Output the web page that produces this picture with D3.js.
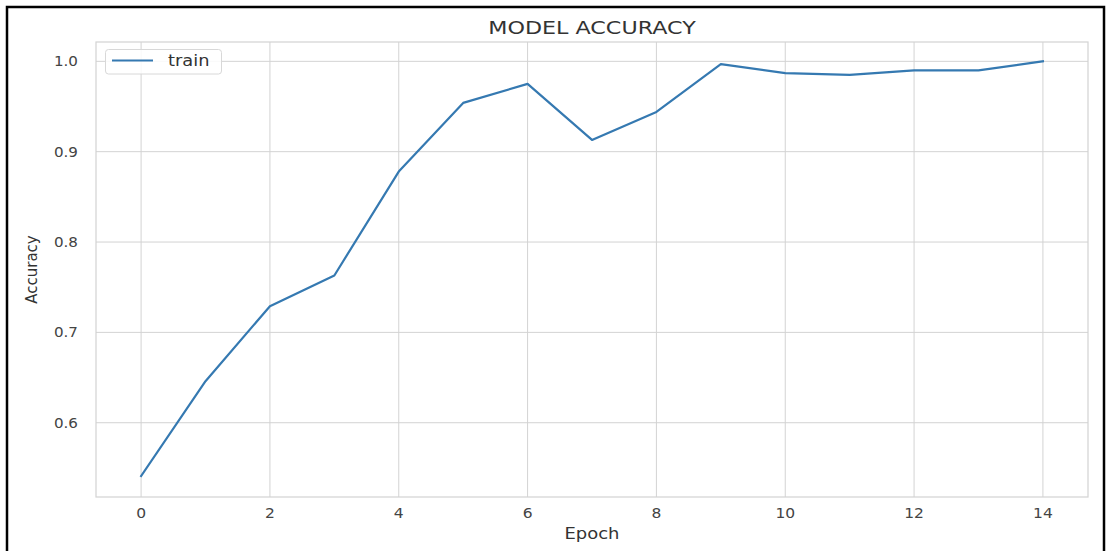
<!DOCTYPE html>
<html>
<head>
<meta charset="utf-8">
<script src="https://cdn.jsdelivr.net/npm/d3@7"></script>
<style>
  html, body { margin: 0; padding: 0; background: #fff; }
  svg { display: block; }
  text { font-family: "DejaVu Sans", sans-serif; }
</style>
</head>
<body>
<svg id="chart" width="1107" height="551"></svg>
<script>
const epochs = [0,1,2,3,4,5,6,7,8,9,10,11,12,13,14];
const trainAcc = [0.541,0.646,0.729,0.763,0.878,0.954,0.975,0.913,0.944,0.997,0.987,0.985,0.990,0.990,1.000];
const xTicks = [0,2,4,6,8,10,12,14];
const yTicks = [0.6,0.7,0.8,0.9,1.0];
const titleText = "MODEL ACCURACY";
const xLabel = "Epoch";
const yLabel = "Accuracy";
const seriesName = "train";

const svg = d3.select("#chart");
const pL = 96, pR = 1088, pT = 42, pB = 497;

const x = d3.scaleLinear().domain([-0.7, 14.7]).range([pL, pR]);
const y = d3.scaleLinear().domain([0.5178, 1.0214]).range([pB, pT]);

// outer frame
svg.append("rect").attr("x", 7).attr("y", 7).attr("width", 1097).attr("height", 560)
  .attr("fill", "none").attr("stroke", "#000").attr("stroke-width", 2.5);

const grid = "#d3d3d3";
// grid lines
svg.append("g").selectAll("line").data(xTicks).join("line")
  .attr("x1", d => x(d)).attr("x2", d => x(d)).attr("y1", pT).attr("y2", pB)
  .attr("stroke", grid).attr("stroke-width", 1);
svg.append("g").selectAll("line").data(yTicks).join("line")
  .attr("y1", d => y(d)).attr("y2", d => y(d)).attr("x1", pL).attr("x2", pR)
  .attr("stroke", grid).attr("stroke-width", 1);
// spines
svg.append("rect").attr("x", pL).attr("y", pT).attr("width", pR - pL).attr("height", pB - pT)
  .attr("fill", "none").attr("stroke", grid).attr("stroke-width", 1.2);

// tick labels
const tickCol = "#444";
svg.append("g").selectAll("text").data(xTicks).join("text")
  .attr("transform", d => `translate(${x(d)},518) scale(1.15,1)`)
  .attr("text-anchor", "middle").attr("font-size", 13.5).attr("fill", tickCol)
  .text(d => d3.format("d")(d));
svg.append("g").selectAll("text").data(yTicks).join("text")
  .attr("transform", d => `translate(78,${y(d) + 5}) scale(1.12,1)`)
  .attr("text-anchor", "end").attr("font-size", 13.5).attr("fill", tickCol)
  .text(d => d3.format(".1f")(d));

// title
svg.append("text").attr("transform", `translate(${(pL + pR) / 2},33.5) scale(1.27,1)`)
  .attr("text-anchor", "middle").attr("font-size", 17.5).attr("fill", "#333")
  .text(titleText);
// x label
svg.append("text").attr("transform", `translate(${(pL + pR) / 2},538.5) scale(1.16,1)`)
  .attr("text-anchor", "middle").attr("font-size", 15.5).attr("fill", "#333")
  .text(xLabel);
// y label
svg.append("text").attr("transform", `translate(37,${(pT + pB) / 2}) rotate(-90) scale(1.0,1.1)`)
  .attr("text-anchor", "middle").attr("font-size", 15).attr("fill", "#333")
  .text(yLabel);

// line
const lineColor = "#3579b1";
const line = d3.line().x((d, i) => x(epochs[i])).y(d => y(d));
svg.append("path").datum(trainAcc).attr("d", line)
  .attr("fill", "none").attr("stroke", lineColor).attr("stroke-width", 2.2)
  .attr("stroke-linejoin", "round").attr("stroke-linecap", "square");

// legend
const lg = svg.append("g");
lg.append("rect").attr("x", 105.5).attr("y", 49.5).attr("width", 116).attr("height", 24.5).attr("rx", 3)
  .attr("fill", "rgba(255,255,255,0.85)").attr("stroke", "#d8d8d8").attr("stroke-width", 1);
lg.append("line").attr("x1", 112).attr("x2", 153).attr("y1", 60.5).attr("y2", 60.5)
  .attr("stroke", lineColor).attr("stroke-width", 2.2);
lg.append("text").attr("transform", "translate(168,66) scale(1.15,1)")
  .attr("font-size", 15.5).attr("fill", "#333").text(seriesName);
</script>
</body>
</html>
